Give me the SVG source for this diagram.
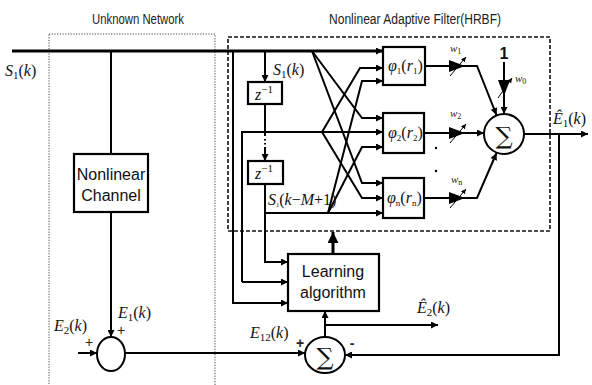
<svg xmlns="http://www.w3.org/2000/svg" width="592" height="385" viewBox="0 0 592 385">
<style>
.ln{fill:none;stroke:#000;stroke-width:2}
.thk{fill:none;stroke:#000;stroke-width:3}
.box{fill:#fff;stroke:#000;stroke-width:2.2}
.hd{font-family:"Liberation Sans",Arial,sans-serif;font-size:14px;fill:#222}
.lb{font-family:"Liberation Sans",Arial,sans-serif;font-size:16px;fill:#111;text-anchor:middle}
.m{font-family:"Liberation Serif","DejaVu Serif",serif;font-style:italic;font-size:16px;fill:#111}
.up{font-style:normal}
.sm{font-family:"Liberation Serif","DejaVu Serif",serif;font-style:italic;font-size:11px;fill:#222}
.sg{font-family:"DejaVu Serif","Liberation Serif",serif;font-size:24px;fill:#111;text-anchor:middle}
.tri{fill:#000}
</style>
<defs>
<marker id="ah" viewBox="0 0 10 10" refX="10" refY="5" markerWidth="8" markerHeight="7" markerUnits="userSpaceOnUse" orient="auto"><path d="M0,0 L10,5 L0,10 z" fill="#000"/></marker>
<marker id="ahb" viewBox="0 0 10 10" refX="10" refY="5" markerWidth="11" markerHeight="11" markerUnits="userSpaceOnUse" orient="auto"><path d="M0,0 L10,5 L0,10 z" fill="#000"/></marker>
<marker id="ahs" viewBox="0 0 10 10" refX="10" refY="5" markerWidth="5" markerHeight="5" markerUnits="userSpaceOnUse" orient="auto"><path d="M0,0 L10,5 L0,10 z" fill="#000"/></marker>
</defs>

<g id="unknown-network">
<rect x="49" y="34" width="166" height="360" fill="none" stroke="#444" stroke-width="1" stroke-dasharray="1.2,1.5"/>
<text x="138" y="24" class="hd" text-anchor="middle" textLength="92" lengthAdjust="spacingAndGlyphs">Unknown Network</text>
</g>
<g id="adaptive-filter">
<rect x="228" y="37" width="322" height="194" fill="none" stroke="#111" stroke-width="1.6" stroke-dasharray="4,2"/>
<text x="415" y="24" class="hd" text-anchor="middle" textLength="172" lengthAdjust="spacingAndGlyphs">Nonlinear  Adaptive Filter(HRBF)</text>
</g>

<g id="connectors">
<path class="thk" d="M12,51 H383" marker-end="url(#ah)"/>
<path class="ln" d="M111,51 V154"/>
<path class="ln" d="M111,212 V337" marker-end="url(#ah)"/>
<path class="ln" d="M78,353 H97" marker-end="url(#ah)"/>
<path class="ln" d="M125,353 H305" marker-end="url(#ah)"/>
<path class="ln" d="M233,51 V303 H288" marker-end="url(#ah)"/>
<path class="ln" d="M242,282 H288" marker-end="url(#ah)"/>
<path class="ln" d="M242,282 V132 H383" marker-end="url(#ah)"/>
<path class="ln" d="M265,51 V82" marker-end="url(#ah)"/>
<path class="ln" d="M265,104 V136"/>
<path class="ln" d="M265,139 V140.5 M265,143 V144.5"/>
<path class="ln" d="M265,147 V161" marker-end="url(#ah)"/>
<path class="ln" d="M265,184 V262 H288" marker-end="url(#ah)"/>
<path class="ln" d="M265,213 H383" marker-end="url(#ah)"/>
<path class="ln" d="M312,51 L362,118 H383" marker-end="url(#ah)"/>
<path class="ln" d="M312,51 L362,183 H383" marker-end="url(#ah)"/>
<path class="ln" d="M322,132 L360,68 H383" marker-end="url(#ah)"/>
<path class="ln" d="M322,132 L362,198 H383" marker-end="url(#ah)"/>
<path class="ln" d="M328,213 L362,81 H383" marker-end="url(#ah)"/>
<path class="ln" d="M328,213 L362,147 H383" marker-end="url(#ah)"/>
<path class="ln" d="M425,66 H477 L496.5,115" marker-end="url(#ah)"/>
<path class="ln" d="M423,133 H484" marker-end="url(#ah)"/>
<path class="ln" d="M423,198 H477 L496.5,153" marker-end="url(#ah)"/>
<path class="ln" d="M504,62 V114" marker-end="url(#ah)"/>
<path class="ln" d="M524,134 H588" marker-end="url(#ah)"/>
<path class="ln" d="M559,134 V355 H345" marker-end="url(#ah)"/>
<path class="thk" d="M333,254 V232" marker-end="url(#ahb)"/>
<path class="ln" d="M325,337 V311" marker-end="url(#ah)"/>
<path class="ln" d="M325,325 H438" marker-end="url(#ah)"/>
</g>

<g id="weight-w1">
<polygon class="tri" points="449,60 465,66 449,72"/>
<path d="M450,76 L466,57" stroke="#000" stroke-width="1" fill="none" marker-end="url(#ahs)"/>
<text x="450" y="52" class="sm">w<tspan class="up" font-size="8" dy="2">1</tspan></text>
</g>
<g id="weight-w2">
<polygon class="tri" points="449,127 465,133 449,139"/>
<path d="M450,143 L466,124" stroke="#000" stroke-width="1" fill="none" marker-end="url(#ahs)"/>
<text x="450" y="117" class="sm">w<tspan class="up" font-size="8" dy="2">2</tspan></text>
</g>
<g id="weight-wn">
<polygon class="tri" points="449,192 465,198 449,204"/>
<path d="M450,208 L466,189" stroke="#000" stroke-width="1" fill="none" marker-end="url(#ahs)"/>
<text x="451" y="183" class="sm">w<tspan class="up" font-size="8" dy="2">n</tspan></text>
</g>
<g id="weight-w0">
<polygon class="tri" points="498,80 510,80 504,96"/>
<path d="M498,98 L512,78" stroke="#000" stroke-width="1" fill="none" marker-end="url(#ahs)"/>
<text x="515" y="82" class="sm">w<tspan class="up" font-size="8" dy="2">0</tspan></text>
<text x="504" y="59" class="lb" font-weight="bold" font-size="17">1</text>
</g>
<g id="dots">
<circle cx="436" cy="148" r="1.2" fill="#000"/>
<circle cx="436" cy="171" r="1.2" fill="#000"/>
</g>

<g id="nonlinear-channel">
<rect class="box" x="74" y="154" width="74" height="58"/>
<text x="111" y="180" class="lb">Nonlinear</text>
<text x="111" y="201" class="lb">Channel</text>
</g>
<g id="noise-adder">
<ellipse cx="111" cy="354" rx="14" ry="17" fill="#fff" stroke="#000" stroke-width="2"/>
</g>
<g id="delay-1">
<rect class="box" x="248" y="82" width="34" height="22"/>
<text x="255" y="100" class="m">z<tspan class="up" font-size="11" dy="-7">−1</tspan></text>
</g>
<g id="delay-2">
<rect class="box" x="248" y="161" width="35" height="23"/>
<text x="255" y="179" class="m">z<tspan class="up" font-size="11" dy="-7">−1</tspan></text>
</g>
<g id="phi-1">
<rect class="box" x="383" y="47" width="42" height="38"/>
<text x="388" y="71" class="m" font-size="14">φ<tspan class="up" font-size="9" dy="3">1</tspan><tspan class="up" dy="-3">(</tspan>r<tspan class="up" font-size="9" dy="3">1</tspan><tspan class="up" dy="-3">)</tspan></text>
</g>
<g id="phi-2">
<rect class="box" x="383" y="113" width="41" height="40"/>
<text x="388" y="138" class="m" font-size="14">φ<tspan class="up" font-size="9" dy="3">2</tspan><tspan class="up" dy="-3">(</tspan>r<tspan class="up" font-size="9" dy="3">2</tspan><tspan class="up" dy="-3">)</tspan></text>
</g>
<g id="phi-n">
<rect class="box" x="383" y="178" width="41" height="40"/>
<text x="387" y="203" class="m" font-size="14">φ<tspan class="up" font-size="9" dy="3">n</tspan><tspan class="up" dy="-3">(</tspan>r<tspan class="up" font-size="9" dy="3">n</tspan><tspan class="up" dy="-3">)</tspan></text>
</g>
<g id="sum-main">
<circle cx="504" cy="134" r="20" fill="#fff" stroke="#000" stroke-width="2"/>
<text x="504" y="144" class="sg" font-size="27">∑</text>
</g>
<g id="learning-algorithm">
<rect class="box" x="288" y="254" width="91" height="57"/>
<text x="333" y="277" class="lb">Learning</text>
<text x="333" y="298" class="lb">algorithm</text>
</g>
<g id="sum-error">
<ellipse cx="325" cy="355" rx="20" ry="18" fill="#fff" stroke="#000" stroke-width="2"/>
<text x="325" y="365" class="sg" font-size="27">∑</text>
</g>

<g id="labels">
<text x="5" y="76" class="m" font-size="17">S<tspan class="up" font-size="11" dy="3">1</tspan><tspan class="up" dy="-3">(</tspan>k<tspan class="up">)</tspan></text>
<text x="273" y="75" class="m">S<tspan class="up" font-size="11" dy="3">1</tspan><tspan class="up" dy="-3">(</tspan>k<tspan class="up">)</tspan></text>
<text x="268" y="205" class="m" font-size="9">S<tspan class="up" font-size="6.5" dy="2">1</tspan><tspan class="up" dy="-2">(</tspan>k<tspan class="up">−</tspan>M<tspan class="up">+1)</tspan></text>
<text x="553" y="124" class="m" font-size="17">Ê<tspan class="up" font-size="11" dy="3">1</tspan><tspan class="up" dy="-3">(</tspan>k<tspan class="up">)</tspan></text>
<text x="417" y="313" class="m">Ê<tspan class="up" font-size="11" dy="3">2</tspan><tspan class="up" dy="-3">(</tspan>k<tspan class="up">)</tspan></text>
<text x="250" y="338" class="m">E<tspan class="up" font-size="11" dy="3">12</tspan><tspan class="up" dy="-3">(</tspan>k<tspan class="up">)</tspan></text>
<text x="54" y="331" class="m">E<tspan class="up" font-size="11" dy="3">2</tspan><tspan class="up" dy="-3">(</tspan>k<tspan class="up">)</tspan></text>
<text x="118" y="318" class="m">E<tspan class="up" font-size="11" dy="3">1</tspan><tspan class="up" dy="-3">(</tspan>k<tspan class="up">)</tspan></text>
<text x="89" y="347" class="hd" font-size="10" text-anchor="middle">+</text>
<text x="121" y="335" class="hd" font-size="10" text-anchor="middle">+</text>
<text x="300" y="348" class="hd" font-size="15" font-weight="bold" text-anchor="middle">+</text>
<text x="352" y="348" class="hd" font-size="15" font-weight="bold" text-anchor="middle">-</text>
</g>
</svg>
